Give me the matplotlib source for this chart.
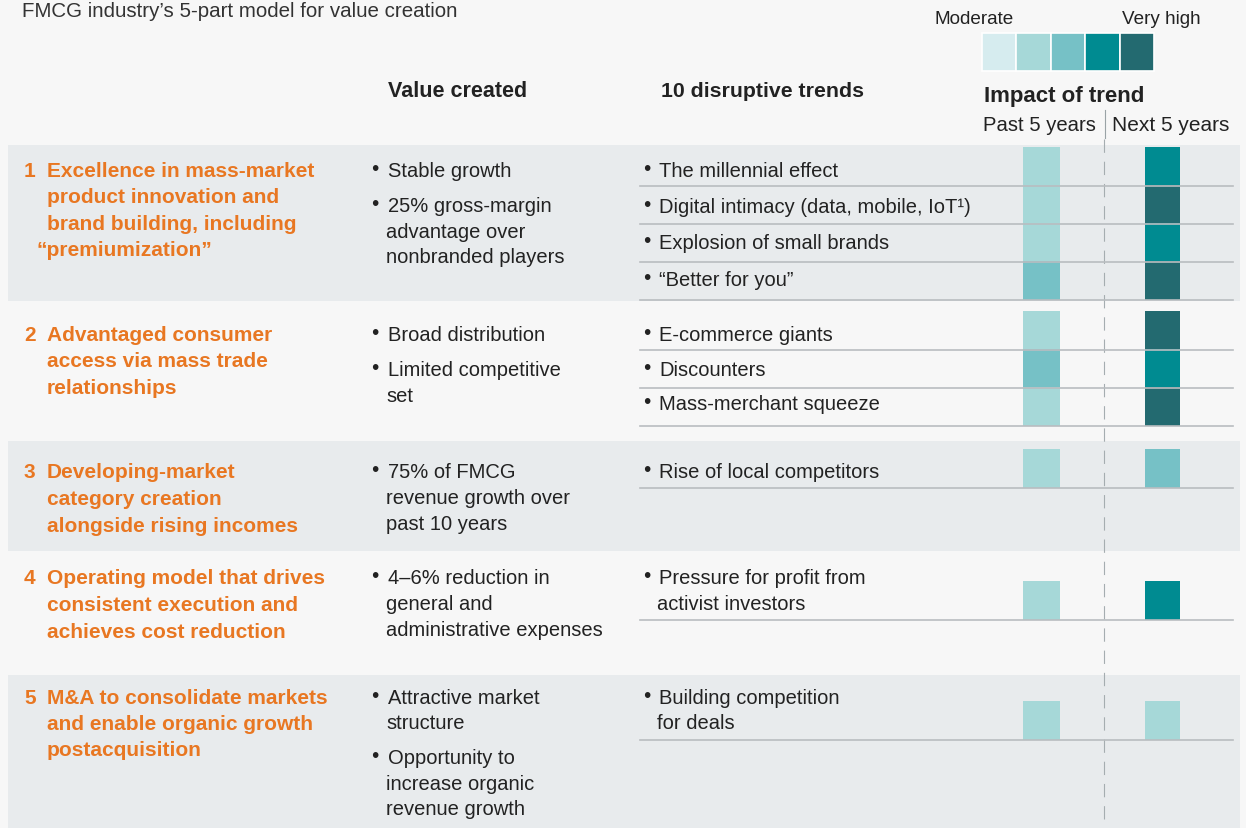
import matplotlib.pyplot as plt

plt.rcParams['font.family'] = ['Liberation Sans', 'DejaVu Sans']

# ---- data ----
title = "FMCG industry\u2019s 5-part model for value creation"

row_titles = [
    ["Excellence in mass-market", "product innovation and", "brand building, including", "\u201cpremiumization\u201d"],
    ["Advantaged consumer", "access via mass trade", "relationships"],
    ["Developing-market", "category creation", "alongside rising incomes"],
    ["Operating model that drives", "consistent execution and", "achieves cost reduction"],
    ["M&A to consolidate markets", "and enable organic growth", "postacquisition"],
]

value_created = [
    [["Stable growth"], ["25% gross-margin", "advantage over", "nonbranded players"]],
    [["Broad distribution"], ["Limited competitive", "set"]],
    [["75% of FMCG", "revenue growth over", "past 10 years"]],
    [["4\u20136% reduction in", "general and", "administrative expenses"]],
    [["Attractive market", "structure"], ["Opportunity to", "increase organic", "revenue growth"]],
]

trends = [
    [["The millennial effect"], ["Digital intimacy (data, mobile, IoT\u00b9)"],
     ["Explosion of small brands"], ["\u201cBetter for you\u201d"]],
    [["E-commerce giants"], ["Discounters"], ["Mass-merchant squeeze"]],
    [["Rise of local competitors"]],
    [["Pressure for profit from", "activist investors"]],
    [["Building competition", "for deals"]],
]

# impact level 1 (moderate) .. 5 (very high)
past_impact = [2, 2, 2, 3, 2, 3, 2, 2, 2, 2]
next_impact = [4, 5, 4, 5, 5, 4, 5, 3, 4, 2]

levels = [1, 2, 3, 4, 5]
level_colors = {1: "#d6ecef", 2: "#a6d8d8", 3: "#76c1c6", 4: "#008b91", 5: "#236a70"}

# ---- layout (pixels) ----
W, H = 1246, 829
band_edges = [146, 302, 442, 552, 676, 829]
band_colors = ["#e8ebed", "#f7f7f7", "#e8ebed", "#f7f7f7", "#e8ebed"]
row_first_y = [171, 335, 473, 579, 698]
trend_text_y = [171, 207, 243, 280, 335, 370, 405, 473, 579, 698]
trend_rule_y = [187, 225, 263, 301, 351, 389, 427, 489, 621, 741]
line_step = 25.5
orange = "#e87722"
ink = "#222222"

fig = plt.figure(figsize=(W / 100, H / 100), dpi=100)
fig.patch.set_facecolor("#f7f7f7")
ax = fig.add_axes([0, 0, 1, 1])
ax.set_xlim(0, W)
ax.set_ylim(H, 0)
ax.axis("off")

# row bands
for i, c in enumerate(band_colors):
    ax.add_patch(plt.Rectangle((8, band_edges[i]), 1232, band_edges[i + 1] - band_edges[i],
                               facecolor=c, edgecolor="none", zorder=0))

# title and headers
ax.text(22, 2, title, fontsize=14.8, color="#333333", va="top")
ax.text(388, 91, "Value created", fontsize=15.5, fontweight="bold", color=ink, va="center")
ax.text(661, 91, "10 disruptive trends", fontsize=15.3, fontweight="bold", color=ink, va="center")
ax.text(984, 96, "Impact of trend", fontsize=16, fontweight="bold", color=ink, va="center")
ax.text(983, 125, "Past 5 years", fontsize=14.6, color=ink, va="center")
ax.text(1112, 125, "Next 5 years", fontsize=15, color=ink, va="center")
ax.plot([1105, 1105], [111, 139], color="#9aa3a6", lw=0.8)
ax.plot([1104, 1104], [140, H], color="#a5adb0", lw=0.8, dashes=(12, 8))

# legend swatches
sw = 172 / len(levels)
ax.bar([982 + sw * (k + 0.5) for k in range(len(levels))], [38] * len(levels), width=sw,
       bottom=34, color=[level_colors[l] for l in levels], edgecolor="white", linewidth=1.2)
ax.text(974, 19, "Moderate", fontsize=13.6, color=ink, ha="center", va="center")
ax.text(1161, 19, "Very high", fontsize=13.6, color=ink, ha="center", va="center")

# row titles and value created
for r, lines in enumerate(row_titles):
    y0 = row_first_y[r]
    ax.text(24, y0, str(r + 1), fontsize=15, fontweight="bold", color=orange, va="center")
    for j, ln in enumerate(lines):
        x = 37 if ln.startswith("\u201c") else 47
        ax.text(x, y0 + j * 26.5, ln, fontsize=15, fontweight="bold", color=orange, va="center")
    y = y0
    for bullet in value_created[r]:
        ax.text(371, y - 2, "\u2022", fontsize=15, color=ink, va="center")
        for j, ln in enumerate(bullet):
            ax.text(388 if j == 0 else 386, y, ln, fontsize=14.5, color=ink, va="center")
            y += line_step
        y += 10

# trends, rules and impact cells
flat_trends = [t for row in trends for t in row]
for k, lines in enumerate(flat_trends):
    y = trend_text_y[k]
    ax.text(643, y - 2, "\u2022", fontsize=15, color=ink, va="center")
    for j, ln in enumerate(lines):
        ax.text(659 if j == 0 else 657, y + j * line_step, ln, fontsize=14.5, color=ink, va="center")

cell_h = 39
ax.bar([1041.5] * len(past_impact), [cell_h] * len(past_impact), width=37,
       bottom=[ry - cell_h for ry in trend_rule_y],
       color=[level_colors[v] for v in past_impact], zorder=2)
ax.bar([1162.5] * len(next_impact), [cell_h] * len(next_impact), width=35,
       bottom=[ry - cell_h for ry in trend_rule_y],
       color=[level_colors[v] for v in next_impact], zorder=2)
for ry in trend_rule_y:
    ax.plot([640, 1233], [ry, ry], color="#b9bdc0", lw=1.2, zorder=3)

fig.savefig("out.png", dpi=100, facecolor=fig.get_facecolor())
